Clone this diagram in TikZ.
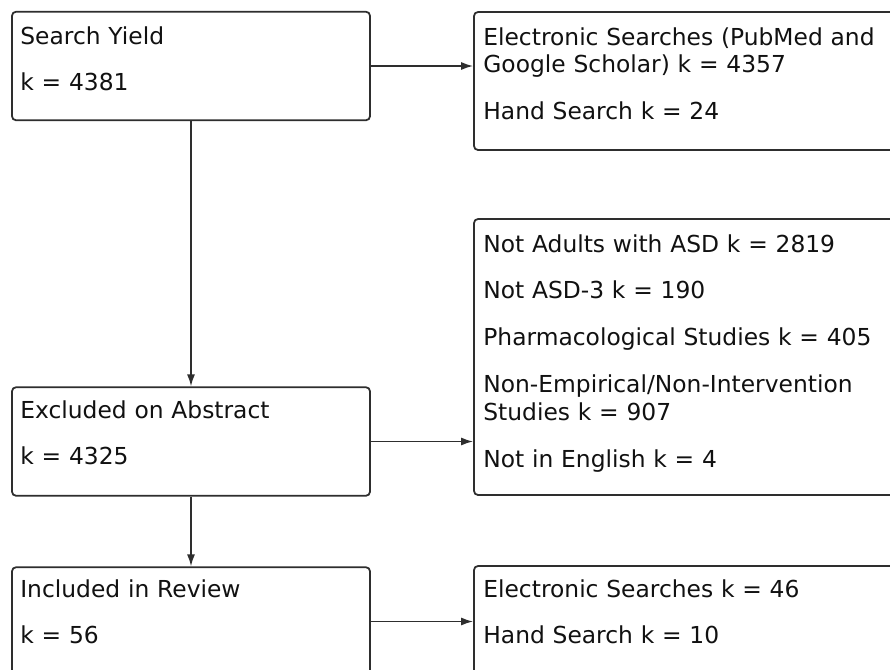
\documentclass[tikz,border=0pt]{standalone}
\usepackage{fontspec}
\setmainfont{DejaVu Sans}
\usepackage{tikz}
\usetikzlibrary{arrows.meta}
\definecolor{edgegray}{HTML}{2E2E2E}
\definecolor{textgray}{HTML}{111111}
\tikzstyle{box}=[draw=edgegray, line width=1pt, rounded corners=0.8mm, inner sep=0pt]
\tikzstyle{sbox}=[box, minimum width=7.16cm, minimum height=2.17cm]
\tikzstyle{rbox}=[box, minimum width=9cm]
\tikzstyle{txt}=[inner sep=0pt, anchor=base west, text width=8cm, align=left, text=textgray, font=\fontsize{13.3}{15.9}\selectfont]
\tikzstyle{flow}=[draw=edgegray, line width=0.9pt, -{Latex[length=2.4mm,width=1.6mm]}]
\newcommand{\gap}{\\[10.8pt]}

\begin{document}
\begin{tikzpicture}
        \clip (0, 0) rectangle (17.8, -13.38);
        \fill[white] (0, 0) rectangle (17.8, -13.38);
        % left column
        \node[sbox] (yield) at (3.82, -1.32) {};
        \node[sbox] (excl) at (3.82, -8.83) {};
        \node[sbox] (incl) at (3.82, -12.43) {};
        \node[txt] (yieldtxt) at (0.40, -0.88) {Search Yield\gap k = 4381};
        \node[txt] (excltxt) at (0.40, -8.36) {Excluded on Abstract\gap k = 4325};
        \node[txt] (incltxt) at (0.40, -11.94) {Included in Review\gap k = 56};
        % right column
        \node[rbox, minimum height=2.76cm] (srch) at (13.98, -1.62) {};
        \node[rbox, minimum height=5.52cm] (why) at (13.98, -7.14) {};
        \node[rbox, minimum height=2.18cm] (src) at (13.98, -12.41) {};
        \node[txt] (srchtxt) at (9.66, -0.90) {Electronic Searches (PubMed and\\ Google Scholar) k = 4357\gap Hand Search k = 24};
        \node[txt] (whytxt) at (9.66, -5.04) {Not Adults with ASD k = 2819\gap Not ASD-3 k = 190\gap Pharmacological Studies k = 405\gap Non-Empirical/Non-Intervention\\ Studies k = 907\gap Not in English k = 4};
        \node[txt] (srctxt) at (9.66, -11.94) {Electronic Searches k = 46\gap Hand Search k = 10};
        % connectors
        \draw[flow] (yield.south) -- (excl.north);
        \draw[flow] (excl.south) -- (incl.north);
        \draw[flow] (yield.east) -- (yield.east -| srch.west);
        \draw[flow] (excl.east) -- (excl.east -| why.west);
        \draw[flow] (incl.east) -- (incl.east -| src.west);
    \end{tikzpicture}
\end{document}
